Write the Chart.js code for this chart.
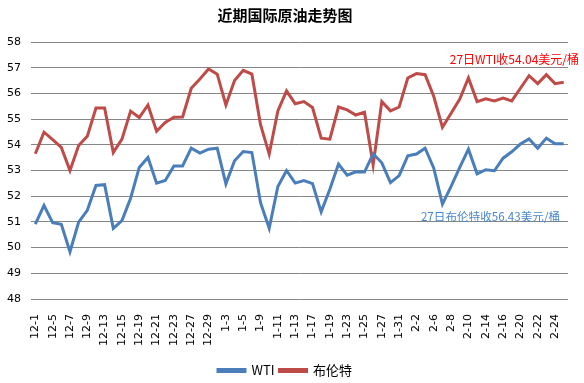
<!DOCTYPE html>
<html>
<head>
<meta charset="utf-8">
<script src="https://cdn.jsdelivr.net/npm/chart.js@4"></script>
<style>
html,body{margin:0;padding:0;background:#fff;}
#wrap{width:584px;height:383px;}
</style>
</head>
<body>
<div id="wrap"><canvas id="c" width="584" height="383"></canvas></div>
<script>
const categories = [
"12-1","12-2","12-5","12-6","12-7","12-8","12-9","12-12","12-13","12-14",
"12-15","12-16","12-19","12-20","12-21","12-22","12-23","12-26","12-27","12-28",
"12-29","12-30","1-3","1-4","1-5","1-6","1-9","1-10","1-11","1-12",
"1-13","1-16","1-17","1-18","1-19","1-20","1-23","1-24","1-25","1-26",
"1-27","1-30","1-31","2-1","2-2","2-3","2-6","2-7","2-8","2-9",
"2-10","2-13","2-14","2-15","2-16","2-17","2-20","2-21","2-22","2-23",
"2-24","2-27"];

const wti = [
50.91,51.64,50.97,50.91,49.84,50.99,51.45,52.42,52.45,50.75,
51.05,51.92,53.12,53.51,52.51,52.61,53.18,53.18,53.87,53.68,
53.83,53.87,52.48,53.38,53.74,53.70,51.75,50.75,52.38,53.00,
52.51,52.61,52.49,51.39,52.27,53.25,52.82,52.95,52.94,53.65,
53.30,52.53,52.80,53.57,53.64,53.87,53.09,51.69,52.38,53.12,
53.83,52.87,53.03,52.99,53.48,53.73,54.03,54.23,53.87,54.26,
54.04,54.04];

const brent = [
53.65,54.49,54.20,53.90,53.00,53.97,54.33,55.43,55.43,53.70,
54.22,55.31,55.06,55.55,54.53,54.87,55.07,55.08,56.20,56.56,
56.95,56.75,55.55,56.50,56.90,56.75,54.78,53.64,55.32,56.10,
55.60,55.68,55.45,54.26,54.22,55.47,55.36,55.16,55.27,53.22,
55.68,55.32,55.47,56.60,56.77,56.73,55.88,54.68,55.23,55.78,
56.60,55.68,55.79,55.71,55.82,55.71,56.20,56.69,56.38,56.73,
56.38,56.43];

const yTicks = [48,49,50,51,52,53,54,55,56,57,58];

const notes = [
  {text:"27日WTI收54.04美元/桶", color:"#FF0000", value:57.31, right:11, size:12},
  {text:"27日布伦特收56.43美元/桶", color:"#4A86CF", value:51.19, right:-8, size:11.6}
];

const notePlugin = {
  id:'notes',
  afterDatasetsDraw(chart){
    const {ctx, chartArea, scales} = chart;
    ctx.save();
    ctx.textAlign = 'right';
    ctx.textBaseline = 'middle';
    notes.forEach(n=>{
      ctx.font = n.size + 'px "Noto Sans CJK SC", "DejaVu Sans", sans-serif';
      ctx.fillStyle = n.color;
      ctx.fillText(n.text, chartArea.right + n.right, scales.y.getPixelForValue(n.value));
    });
    ctx.restore();
  }
};

const numFont = {family:'"DejaVu Sans", "Noto Sans CJK SC", sans-serif', size:11};

new Chart(document.getElementById('c'), {
  type:'line',
  data:{
    labels:categories,
    datasets:[
      {label:'WTI', data:wti, borderColor:'#4A7EBB', backgroundColor:'#4A7EBB', borderWidth:3, pointRadius:0, tension:0},
      {label:'布伦特', data:brent, borderColor:'#BE4B48', backgroundColor:'#BE4B48', borderWidth:3, pointRadius:0, tension:0}
    ]
  },
  options:{
    responsive:false,
    animation:false,
    layout:{padding:{left:-3,right:11,top:0,bottom:-4}},
    plugins:{
      title:{display:true, text:'近期国际原油走势图', color:'#000',
        font:{family:'"Noto Sans CJK SC", sans-serif', size:15, weight:'bold'},
        padding:{top:6,bottom:18}},
      legend:{position:'bottom',
        labels:{boxWidth:27, boxHeight:2, color:'#000', padding:5,
          font:{family:'"Noto Sans CJK SC", "DejaVu Sans", sans-serif', size:13}}},
      tooltip:{enabled:false}
    },
    scales:{
      x:{offset:true,
        grid:{display:false},
        border:{display:false},
        afterFit(axis){axis.height += 6;},
        ticks:{autoSkip:false, minRotation:90, maxRotation:90, color:'#000', font:numFont, padding:7,
          callback:function(v,i){return i%2===0 ? this.getLabelForValue(v) : '';}}
      },
      y:{min:48,max:58,
        afterBuildTicks(axis){axis.ticks = yTicks.map(v=>({value:v}));},
        grid:{color:'#868686', drawTicks:false, lineWidth:1},
        border:{display:false},
        ticks:{color:'#000', font:numFont, padding:10}
      }
    }
  },
  plugins:[notePlugin]
});
</script>
</body>
</html>
